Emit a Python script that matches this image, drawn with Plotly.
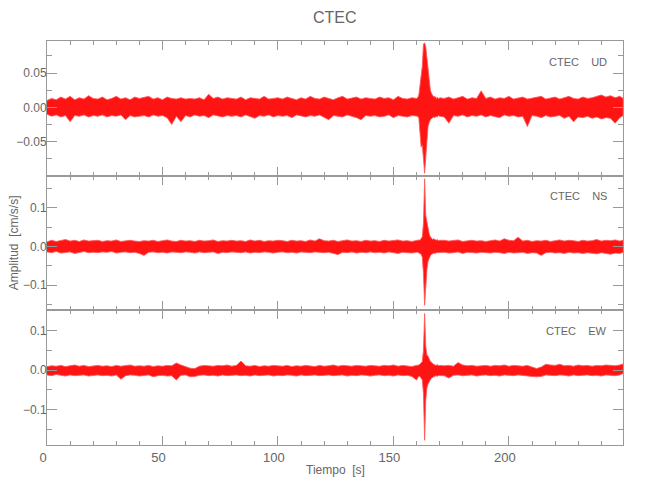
import numpy as np
import plotly.graph_objects as go
from plotly.subplots import make_subplots

# ---- sample times of the envelope readings (s) ----
T = np.concatenate([np.arange(0, 160.1, 2.0),
                    np.arange(160.5, 170.01, 0.5),
                    np.arange(172, 248.1, 2.0),
                    [249.5]]).tolist()

# ---- UD component envelope (cm/s/s) ----
UD_UP = [0.010, 0.013, 0.011, 0.015, 0.012, 0.016, 0.011, 0.014, 0.012, 0.017, 0.013,
         0.012, 0.015, 0.011, 0.013, 0.016, 0.012, 0.014, 0.011, 0.015, 0.013,
         0.014, 0.016, 0.012, 0.014, 0.011, 0.015, 0.013, 0.012, 0.014, 0.012,
         0.013, 0.012, 0.014, 0.011, 0.019, 0.013, 0.015, 0.012, 0.014, 0.013,
         0.012, 0.015, 0.011, 0.014, 0.013, 0.012, 0.016, 0.012, 0.013, 0.014,
         0.012, 0.015, 0.013, 0.011, 0.014, 0.012, 0.016, 0.013, 0.012, 0.015,
         0.013, 0.011, 0.014, 0.016, 0.012, 0.013, 0.015, 0.012, 0.014, 0.013,
         0.012, 0.015, 0.013, 0.014, 0.011, 0.016, 0.013, 0.012, 0.014, 0.013,
         0.014, 0.018, 0.030, 0.045, 0.060, 0.092, 0.094, 0.088, 0.070, 0.055,
         0.035, 0.025, 0.020, 0.017, 0.015, 0.016, 0.013, 0.015, 0.012, 0.014,
         0.013, 0.015, 0.012, 0.014, 0.016, 0.012, 0.014, 0.013, 0.024, 0.013,
         0.015, 0.012, 0.014, 0.013, 0.016, 0.012, 0.014, 0.015, 0.012, 0.013,
         0.014, 0.016, 0.012, 0.013, 0.015, 0.012, 0.014, 0.016, 0.013, 0.012,
         0.015, 0.013, 0.014, 0.016, 0.018, 0.015, 0.017, 0.014, 0.016,
         0.013]
UD_LO = [-0.010, -0.013, -0.011, -0.014, -0.012, -0.021, -0.012, -0.013, -0.011, -0.014, -0.012,
         -0.013, -0.011, -0.014, -0.012, -0.013, -0.011, -0.018, -0.012, -0.014, -0.013,
         -0.012, -0.014, -0.011, -0.013, -0.012, -0.015, -0.025, -0.013, -0.021, -0.012,
         -0.014, -0.011, -0.013, -0.012, -0.015, -0.011, -0.013, -0.014, -0.012, -0.013,
         -0.012, -0.014, -0.011, -0.013, -0.016, -0.012, -0.013, -0.011, -0.014, -0.012,
         -0.013, -0.012, -0.015, -0.011, -0.013, -0.014, -0.012, -0.013, -0.011, -0.014,
         -0.018, -0.012, -0.013, -0.014, -0.011, -0.013, -0.015, -0.018, -0.012, -0.013,
         -0.012, -0.014, -0.013, -0.011, -0.015, -0.012, -0.013, -0.014, -0.012, -0.013,
         -0.013, -0.016, -0.030, -0.058, -0.055, -0.075, -0.096, -0.080, -0.050, -0.028,
         -0.022, -0.018, -0.016, -0.015, -0.014, -0.015, -0.013, -0.014, -0.012, -0.013,
         -0.014, -0.023, -0.012, -0.013, -0.011, -0.014, -0.012, -0.013, -0.011, -0.014,
         -0.012, -0.013, -0.015, -0.011, -0.013, -0.012, -0.014, -0.013, -0.028, -0.012,
         -0.013, -0.015, -0.012, -0.014, -0.013, -0.012, -0.016, -0.013, -0.021, -0.014,
         -0.015, -0.013, -0.016, -0.014, -0.017, -0.015, -0.016, -0.023, -0.015,
         -0.012]

# ---- NS component envelope ----
NS_UP = [0.012, 0.016, 0.013, 0.015, 0.018, 0.014, 0.016, 0.013, 0.017, 0.014, 0.015,
         0.016, 0.013, 0.015, 0.014, 0.017, 0.013, 0.015, 0.016, 0.014, 0.013,
         0.015, 0.014, 0.016, 0.013, 0.015, 0.017, 0.014, 0.013, 0.016, 0.014,
         0.015, 0.013, 0.016, 0.014, 0.015, 0.017, 0.013, 0.015, 0.014, 0.016,
         0.014, 0.015, 0.013, 0.017, 0.014, 0.016, 0.013, 0.015, 0.014, 0.016,
         0.015, 0.013, 0.016, 0.014, 0.015, 0.013, 0.017, 0.014, 0.020, 0.015,
         0.014, 0.016, 0.013, 0.015, 0.017, 0.014, 0.015, 0.013, 0.016, 0.014,
         0.015, 0.013, 0.016, 0.014, 0.015, 0.017, 0.014, 0.015, 0.013, 0.016,
         0.015, 0.017, 0.016, 0.020, 0.025, 0.060, 0.175, 0.080, 0.065, 0.045,
         0.032, 0.025, 0.021, 0.018, 0.020, 0.017, 0.016, 0.018, 0.015, 0.016,
         0.016, 0.014, 0.015, 0.017, 0.013, 0.015, 0.016, 0.014, 0.015, 0.013,
         0.015, 0.017, 0.014, 0.020, 0.016, 0.015, 0.024, 0.014, 0.016, 0.013,
         0.015, 0.014, 0.016, 0.013, 0.015, 0.017, 0.014, 0.016, 0.015, 0.013,
         0.016, 0.014, 0.015, 0.018, 0.014, 0.016, 0.015, 0.017, 0.014,
         0.016]
NS_LO = [-0.014, -0.016, -0.013, -0.017, -0.015, -0.014, -0.018, -0.015, -0.013, -0.016, -0.015,
         -0.016, -0.014, -0.015, -0.013, -0.017, -0.015, -0.014, -0.016, -0.015, -0.018,
         -0.023, -0.015, -0.014, -0.016, -0.015, -0.017, -0.014, -0.015, -0.016, -0.014,
         -0.015, -0.017, -0.014, -0.016, -0.015, -0.014, -0.018, -0.015, -0.016, -0.014,
         -0.015, -0.016, -0.014, -0.017, -0.015, -0.016, -0.014, -0.015, -0.017, -0.015,
         -0.014, -0.016, -0.015, -0.017, -0.014, -0.015, -0.016, -0.014, -0.015, -0.016,
         -0.015, -0.017, -0.021, -0.015, -0.016, -0.014, -0.017, -0.015, -0.016, -0.014,
         -0.016, -0.015, -0.017, -0.014, -0.016, -0.018, -0.015, -0.016, -0.017, -0.015,
         -0.015, -0.016, -0.018, -0.020, -0.028, -0.070, -0.152, -0.110, -0.060, -0.038,
         -0.030, -0.024, -0.020, -0.019, -0.017, -0.018, -0.016, -0.017, -0.015, -0.016,
         -0.015, -0.017, -0.016, -0.014, -0.018, -0.015, -0.016, -0.017, -0.015, -0.016,
         -0.017, -0.015, -0.016, -0.018, -0.015, -0.017, -0.016, -0.015, -0.018, -0.016,
         -0.017, -0.023, -0.016, -0.015, -0.017, -0.016, -0.018, -0.015, -0.017, -0.016,
         -0.018, -0.016, -0.017, -0.019, -0.016, -0.018, -0.020, -0.017, -0.018,
         -0.015]

# ---- EW component envelope ----
EW_UP = [0.009, 0.011, 0.010, 0.012, 0.009, 0.011, 0.013, 0.010, 0.012, 0.009, 0.011,
         0.012, 0.010, 0.011, 0.009, 0.012, 0.010, 0.011, 0.013, 0.010, 0.011,
         0.010, 0.012, 0.009, 0.011, 0.010, 0.012, 0.011, 0.018, 0.013, 0.008,
         0.005, 0.004, 0.010, 0.012, 0.011, 0.010, 0.012, 0.011, 0.013, 0.010,
         0.012, 0.023, 0.011, 0.010, 0.012, 0.009, 0.011, 0.010, 0.012, 0.011,
         0.010, 0.012, 0.009, 0.011, 0.010, 0.012, 0.011, 0.009, 0.012, 0.010,
         0.011, 0.013, 0.010, 0.012, 0.011, 0.010, 0.012, 0.011, 0.010, 0.012,
         0.011, 0.010, 0.012, 0.011, 0.013, 0.010, 0.012, 0.011, 0.009, 0.012,
         0.012, 0.013, 0.015, 0.018, 0.022, 0.050, 0.143, 0.060, 0.038, 0.035,
         0.028, 0.022, 0.020, 0.016, 0.014, 0.013, 0.012, 0.014, 0.011, 0.012,
         0.011, 0.012, 0.010, 0.019, 0.013, 0.011, 0.012, 0.010, 0.011, 0.012,
         0.010, 0.012, 0.011, 0.013, 0.010, 0.012, 0.011, 0.010, 0.012, 0.007,
         0.004, 0.008, 0.015, 0.013, 0.012, 0.015, 0.011, 0.012, 0.010, 0.013,
         0.011, 0.012, 0.010, 0.012, 0.011, 0.013, 0.012, 0.011, 0.013,
         0.016]
EW_LO = [-0.012, -0.014, -0.011, -0.013, -0.015, -0.012, -0.014, -0.013, -0.012, -0.015, -0.013,
         -0.012, -0.014, -0.013, -0.015, -0.012, -0.023, -0.014, -0.012, -0.013, -0.015,
         -0.013, -0.012, -0.017, -0.014, -0.013, -0.015, -0.014, -0.025, -0.013, -0.012,
         -0.017, -0.016, -0.013, -0.012, -0.014, -0.013, -0.015, -0.012, -0.014, -0.013,
         -0.012, -0.014, -0.013, -0.015, -0.012, -0.014, -0.013, -0.012, -0.015, -0.013,
         -0.014, -0.012, -0.013, -0.015, -0.012, -0.014, -0.013, -0.012, -0.014, -0.013,
         -0.012, -0.014, -0.013, -0.012, -0.015, -0.013, -0.014, -0.012, -0.013, -0.015,
         -0.013, -0.012, -0.014, -0.013, -0.015, -0.012, -0.014, -0.013, -0.016, -0.025,
         -0.020, -0.015, -0.016, -0.020, -0.025, -0.060, -0.177, -0.075, -0.045, -0.035,
         -0.028, -0.024, -0.020, -0.018, -0.016, -0.015, -0.014, -0.016, -0.013, -0.014,
         -0.014, -0.020, -0.013, -0.012, -0.014, -0.013, -0.012, -0.015, -0.013, -0.012,
         -0.014, -0.013, -0.015, -0.012, -0.013, -0.014, -0.012, -0.013, -0.015, -0.016,
         -0.017, -0.016, -0.012, -0.013, -0.014, -0.012, -0.013, -0.015, -0.012, -0.014,
         -0.013, -0.012, -0.014, -0.013, -0.015, -0.012, -0.013, -0.014, -0.012,
         -0.008]

COMPONENTS = ["UD", "NS", "EW"]
STATION = "CTEC"
Y_RANGES = [[-0.0995, 0.0966], [-0.165, 0.183], [-0.189, 0.151]]
Y_DTICK = [0.05, 0.1, 0.1]
Y_MINOR = [0.025, 0.05, 0.05]
Y_FMT = [".2f", ".1f", ".1f"]
X_RANGE = [0, 249.4]

ENVS = [(UD_UP, UD_LO), (NS_UP, NS_LO), (EW_UP, EW_LO)]
for up, lo in ENVS:
    assert len(up) == len(T) and len(lo) == len(T), (len(up), len(lo), len(T))

FONT = "Liberation Sans, Arial, sans-serif"
TXT = "#666666"
AX = "#999999"

fig = make_subplots(rows=3, cols=1, shared_xaxes=True, vertical_spacing=0)

for i, (up, lo) in enumerate(ENVS):
    fig.add_trace(go.Scatter(
        x=T + T[::-1], y=up + lo[::-1],
        mode="lines", fill="toself",
        fillcolor="rgba(255,0,0,0.92)",
        line=dict(color="rgba(255,90,90,0.85)", width=1),
        hoverinfo="skip", showlegend=False), row=i + 1, col=1)

for i in range(3):
    fig.update_yaxes(range=Y_RANGES[i], dtick=Y_DTICK[i], tick0=0, tickformat=Y_FMT[i],
                     ticks="inside", ticklen=10, tickcolor=AX,
                     minor=dict(dtick=Y_MINOR[i], tick0=0, ticks="inside", ticklen=5, tickcolor=AX),
                     showline=True, linecolor=AX, linewidth=1, mirror="allticks",
                     showgrid=False, zeroline=False, automargin=False,
                     ticklabelstandoff=-3,
                     tickfont=dict(family=FONT, size=12, color=TXT),
                     row=i + 1, col=1)
    fig.update_xaxes(range=X_RANGE, dtick=50, tick0=0,
                     ticks="inside", ticklen=9, tickcolor=AX,
                     minor=dict(dtick=10, tick0=0, ticks="inside", ticklen=4, tickcolor=AX),
                     showline=True, linecolor=AX, linewidth=1, mirror="allticks",
                     showgrid=False, zeroline=False, automargin=False,
                     ticklabelshift=-4,
                     tickfont=dict(family=FONT, size=13, color=TXT),
                     row=i + 1, col=1)

label_y = [0.948, 0.616, 0.281]
annotations = []
for i, comp in enumerate(COMPONENTS):
    annotations.append(dict(text=STATION + "\u00a0\u00a0\u00a0\u00a0" + comp, xref="paper", yref="paper",
                            x=0.9757, y=label_y[i], xanchor="right", yanchor="middle",
                            showarrow=False, font=dict(family=FONT, size=11, color=TXT)))
annotations.append(dict(text="Amplitud\u00a0\u00a0[cm/s/s]", xref="paper", yref="paper",
                        x=-0.057, y=0.5, xanchor="center", yanchor="middle", textangle=-90,
                        showarrow=False, font=dict(family=FONT, size=12, color=TXT)))
annotations.append(dict(text="Tiempo\u00a0\u00a0[s]", xref="paper", yref="paper",
                        x=0.5, y=-0.062, xanchor="center", yanchor="middle",
                        showarrow=False, font=dict(family=FONT, size=12, color=TXT)))

fig.update_layout(
    width=650, height=500,
    margin=dict(l=47, r=27, t=41, b=55),
    paper_bgcolor="white", plot_bgcolor="white",
    title=dict(text=STATION, x=0.515, xanchor="center", y=0.966, yanchor="middle",
               font=dict(family=FONT, size=16, color=TXT)),
    annotations=annotations,
)

fig.write_html("out.html", config={"displayModeBar": False},
               post_script="document.body.style.margin='0';")
